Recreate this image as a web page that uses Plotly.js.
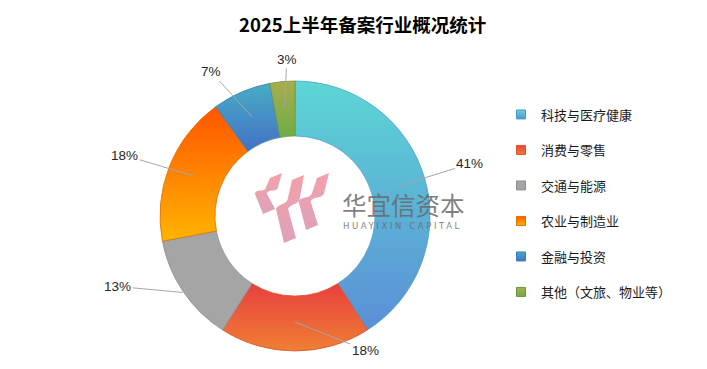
<!DOCTYPE html>
<html>
<head>
<meta charset="utf-8">
<script src="https://cdn.plot.ly/plotly-3.0.1.min.js"></script>
<style>html,body{margin:0;padding:0;background:#fff;}#chart{width:707px;height:369px;}</style>
</head>
<body>
<div id="chart"></div>
<script>
// ---- data ----
const categories = ['科技与医疗健康', '消费与零售', '交通与能源', '农业与制造业', '金融与投资', '其他（文旅、物业等）'];
const shares = [41, 18, 13, 18, 7, 3];
const chartTitle = '2025上半年备案行业概况统计';

// ---- styles ----
const gradTop = ['#5CD6D4', '#E8403F', '#A5A5A5', '#FF5500', '#46ADC7', '#A8AD50'];
const gradBot = ['#5B8FD7', '#EF7F33', '#A5A5A5', '#FFB400', '#4470C4', '#6FAD47'];
const midCol  = ['#57B5D5', '#EB6438', '#A5A5A5', '#FF8A00', '#4590C5', '#8CAD4B'];
const edgeCol = ['#4A9EC4', '#D9562E', '#8F8F8F', '#E07000', '#3A7DB0', '#6F9440'];

const W = 707, H = 369;
const cx = 295, cy = 216, R = 135;
const px = x => x / W, py = y => 1 - y / H;

// label placement (style): anchor radius and pixel offsets of text from anchor
const anchorR = [108, 106, 136, 108, 108, 109];
const offX = [71, 70, -65, -70, -41, 2];
const offY = [-22, 28, -6, -21, -45, -48];

const total = shares.reduce((a, b) => a + b, 0);
let cum = 0;
const labelAnn = shares.map((v, i) => {
  const mid = (cum + v / 2) / total * 2 * Math.PI;
  cum += v;
  const ax = cx + anchorR[i] * Math.sin(mid);
  const ay = cy - anchorR[i] * Math.cos(mid);
  return {
    x: px(ax), y: py(ay), xref: 'paper', yref: 'paper',
    text: Math.round(v / total * 100) + '%',
    showarrow: true, arrowhead: 0, arrowwidth: 1, arrowcolor: '#A6A6A6',
    standoff: 0, startstandoff: 0, ax: offX[i], ay: offY[i],
    font: {family: 'Liberation Sans, Arial, sans-serif', size: 13.5, color: '#262626'}
  };
});

const pie = {
  type: 'pie', labels: categories, values: shares,
  sort: false, direction: 'clockwise', rotation: 0, hole: 0.593,
  textinfo: 'none', hoverinfo: 'label+percent', showlegend: false,
  marker: {colors: midCol, line: {color: edgeCol, width: 0.8}},
  domain: {x: [px(cx - R), px(cx + R)], y: [py(cy + R), py(cy - R)]}
};

const legendTraces = categories.map((c, i) => ({
  type: 'scatter', mode: 'markers', x: [null], y: [null], name: c,
  legendgroup: 'g' + i, showlegend: true, hoverinfo: 'skip',
  marker: {symbol: 'square', size: 9, color: midCol[i], line: {color: edgeCol[i], width: 1}}
}));

// watermark logo ribbons (decoration), pixel coords -> paper
function ribbon(tx, ty, bx, by, w) {
  const P = (x, y) => px(x).toFixed(5) + ',' + py(y).toFixed(5);
  const dx = tx - bx, h = by - ty;
  const c = [
    [tx - w / 2, ty + 5],
    [tx - w / 2 - 0.22 * dx, ty + 0.36 * h],
    [tx - w / 2 - 0.8 * dx, ty + 0.5 * h],
    [bx + w / 2, by - 5]
  ];
  const right = c.map(p => [p[0] + w / 2, p[1]]);
  const left = c.map(p => [p[0] - w / 2, p[1]]);
  right[0] = [tx, ty];
  left[3] = [bx, by];
  return 'M' + P(...right[0]) + ' L' + P(...right[1]) +
    ' C' + P(right[1][0] - 1.5, right[1][1] + 5) + ' ' + P(right[2][0] + 1.5, right[2][1] - 5) + ' ' + P(...right[2]) +
    ' L' + P(...right[3]) + ' L' + P(...left[3]) + ' L' + P(...left[2]) +
    ' C' + P(left[2][0] + 1.5, left[2][1] - 5) + ' ' + P(left[1][0] - 1.5, left[1][1] + 5) + ' ' + P(...left[1]) +
    ' L' + P(...left[0]) + ' Z';
}
const logoShapes = [
  [282, 173, 263, 214, 12],
  [304, 175, 284, 243, 12],
  [329, 173, 306, 230, 12]
].map(s => ({
  type: 'path', xref: 'paper', yref: 'paper', layer: 'above',
  path: ribbon(...s), fillcolor: 'rgba(234,118,132,0.78)', line: {width: 0}
}));

const wmAnn = [
  {x: px(403), y: py(204), xref: 'paper', yref: 'paper', showarrow: false,
   text: '华宜信资本', font: {family: 'Noto Sans CJK SC', size: 24.5, color: 'rgba(105,105,105,0.85)'}},
  {x: px(402), y: py(225.5), xref: 'paper', yref: 'paper', showarrow: false,
   text: '<span style="letter-spacing:2.6px">HUAYIXIN CAPITAL</span>',
   font: {family: 'DejaVu Sans, sans-serif', size: 8.5, color: 'rgba(105,105,105,0.85)'}}
];

const layout = {
  width: W, height: H,
  margin: {l: 0, r: 0, t: 0, b: 0},
  paper_bgcolor: '#fff', plot_bgcolor: '#fff',
  title: {text: chartTitle, x: 0.513, xanchor: 'center', y: py(26), yanchor: 'middle',
          font: {family: 'Noto Sans CJK SC', size: 18.5, weight: 'bold', color: '#000'}},
  xaxis: {visible: false, domain: [0.9, 1]}, yaxis: {visible: false, domain: [0.9, 1]},
  legend: {x: px(501), xanchor: 'left', y: py(203.5), yanchor: 'middle',
           tracegroupgap: 15.6, traceorder: 'grouped', bgcolor: 'rgba(0,0,0,0)',
           font: {family: 'Noto Sans CJK SC', size: 13, color: '#1a1a1a'}},
  annotations: labelAnn.concat(wmAnn),
  shapes: logoShapes,
  showlegend: true
};

Plotly.newPlot('chart', [pie].concat(legendTraces), layout, {staticPlot: true}).then(gd => {
  const NS = 'http://www.w3.org/2000/svg';
  const svg = gd.querySelector('svg.main-svg');
  let defs = svg.querySelector('defs');
  if (!defs) { defs = document.createElementNS(NS, 'defs'); svg.insertBefore(defs, svg.firstChild); }
  const mk = (id, c1, c2, o1, o2) => {
    const lg = document.createElementNS(NS, 'linearGradient');
    lg.setAttribute('id', id);
    lg.setAttribute('x1', '0'); lg.setAttribute('y1', '0');
    lg.setAttribute('x2', '0'); lg.setAttribute('y2', '1');
    [[0, c1, o1], [1, c2, o2]].forEach(([off, c, o]) => {
      const st = document.createElementNS(NS, 'stop');
      st.setAttribute('offset', off);
      st.setAttribute('stop-color', c);
      st.setAttribute('stop-opacity', o);
      lg.appendChild(st);
    });
    defs.appendChild(lg);
  };
  gradTop.forEach((c, i) => mk('sg' + i, c, gradBot[i], 1, 1));
  mk('logoG', '#F2909A', '#D68AA8', 0.85, 0.8);
  gd.querySelectorAll('g.slice path.surface').forEach((p, i) => { p.style.fill = 'url(#sg' + i + ')'; });
  gd.querySelectorAll('g.legend g.traces').forEach((t, i) => {
    const pt = t.querySelector('path.scatterpts');
    if (pt) pt.style.fill = 'url(#sg' + i + ')';
  });
  gd.querySelectorAll('.shapelayer path').forEach(p => { p.style.fill = 'url(#logoG)'; p.style.fillOpacity = 1; });
});
</script>
</body>
</html>
